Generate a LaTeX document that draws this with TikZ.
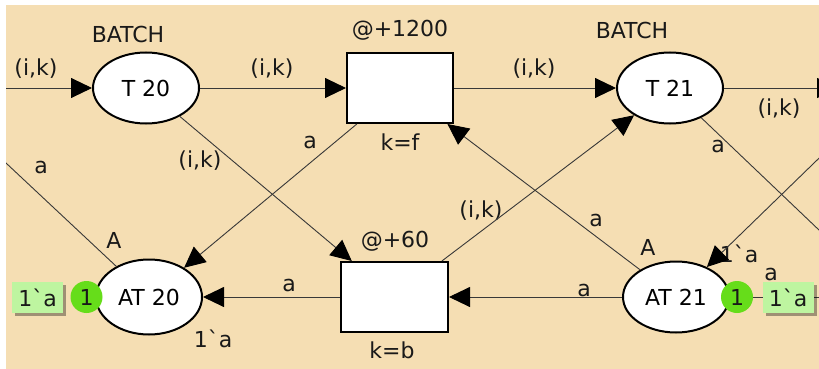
\documentclass[tikz,border=0pt]{standalone}
\usepackage{fontspec}
\setmainfont{DejaVu Sans}[Ligatures=TeXOff]
\usetikzlibrary{arrows.meta,shapes.geometric,shadows}
\definecolor{bg}{HTML}{F5DEB3}
\definecolor{tokgreen}{HTML}{66DD1A}
\definecolor{markgreen}{HTML}{BEF5A0}
\definecolor{arcgray}{HTML}{383838}
\tikzset{
  place/.style={ellipse, draw=black, fill=white, line width=2pt, inner sep=0pt,
    minimum width=106pt, minimum height=71pt},
  trans/.style={rectangle, draw=black, fill=white, line width=2pt, inner sep=0pt,
    minimum width=106pt, minimum height=70pt},
  lbl/.style={anchor=base, inner sep=0pt, text=black!90},
  arc/.style={draw=arcgray, line width=0.9pt},
  tip/.style={arc, -{Triangle[length=21pt,width=20pt,black]}},
  token/.style={circle, fill=tokgreen, minimum size=32pt, inner sep=0pt, text=black!90},
  markbox/.style={rectangle, fill=markgreen, minimum width=51pt, minimum height=31pt,
    inner sep=0pt, text=black!90,
    drop shadow={shadow xshift=3pt, shadow yshift=-3pt, opacity=0.35, fill=black}}
}
\begin{document}
\begin{tikzpicture}[x=1pt, y=-1pt, font=\fontsize{22}{26}\selectfont]
\useasboundingbox (0,0) rectangle (819,369);
\fill[bg] (6,5) rectangle (819,369);
\begin{scope}
\clip (6,5) rectangle (819,369);
% places and transitions
\node[place] (T20) at (146,88) {T 20};
\node[place] (T21) at (670,88) {T 21};
\node[place, minimum height=75pt] (AT20) at (149,297) {AT 20};
\node[place] (AT21) at (676,297) {AT 21};
\node[trans] (tr1) at (400,88) {};
\node[trans, minimum width=107pt] (tr2) at (394.5,297) {};
% free ends
\coordinate (L0) at (0,88);
\coordinate (L1) at (0,157.4);
\coordinate (R0) at (838,88);
\coordinate (R1) at (830,240.5);
\coordinate (R2) at (830,147.5);
\coordinate (R3) at (830,297);
% labels
\node[lbl] (bt20) at (128,43) {BATCH};
\node[lbl] (bt21) at (632,39) {BATCH};
\node[lbl] (d1200) at (400,37) {@+1200};
\node[lbl] (gkf) at (400,150) {k=f};
\node[lbl] (d60) at (395,247) {@+60};
\node[lbl] (gkb) at (392,358) {k=b};
\node[lbl] (cA20) at (114,248) {A};
\node[lbl] (cA21) at (648,255) {A};
\node[lbl] (i20) at (213,347) {1`a};
\node[lbl] (i21) at (739,262) {1`a};
\node[lbl] (e1) at (36,75) {(i,k)};
\node[lbl] (e2) at (272,75) {(i,k)};
\node[lbl] (e3) at (534,75) {(i,k)};
\node[lbl] (e4) at (779,115) {(i,k)};
\node[lbl] (e5) at (200,167) {(i,k)};
\node[lbl] (e6) at (310,148) {a};
\node[lbl] (e7) at (481,217) {(i,k)};
\node[lbl] (e8) at (596,226) {a};
\node[lbl] (e9) at (289,291) {a};
\node[lbl] (e10) at (584,296) {a};
\node[lbl] (e11) at (41,173) {a};
\node[lbl] (e12) at (718,152) {a};
\node[lbl] (e14) at (771,280) {a};
% arcs
\draw[tip] (L0) -- (T20);
\draw[tip] (T20) -- (tr1);
\draw[tip] (tr1) -- (T21);
\draw[tip] (T21) -- (R0);
\draw[tip] (T20) -- (tr2);
\draw[tip] (tr1) -- (AT20);
\draw[tip] (tr2) -- (T21);
\draw[tip] (AT21) -- (tr1);
\draw[tip] (tr2) -- (AT20);
\draw[tip] (AT21) -- (tr2);
\draw[arc] (L1) -- (AT20);
\draw[arc] (T21) -- (R1);
\draw[tip] (R2) -- (AT21);
\draw[arc] (AT21) -- (R3);
% tokens and markings
\node[token] (k20) at (86.5,297) {1};
\node[token] (k21) at (737,297) {1};
\node[markbox] (m20) at (37.5,297.5) {1`a};
\node[markbox] (m21) at (788,297.5) {1`a};
\end{scope}
\end{tikzpicture}
\end{document}
